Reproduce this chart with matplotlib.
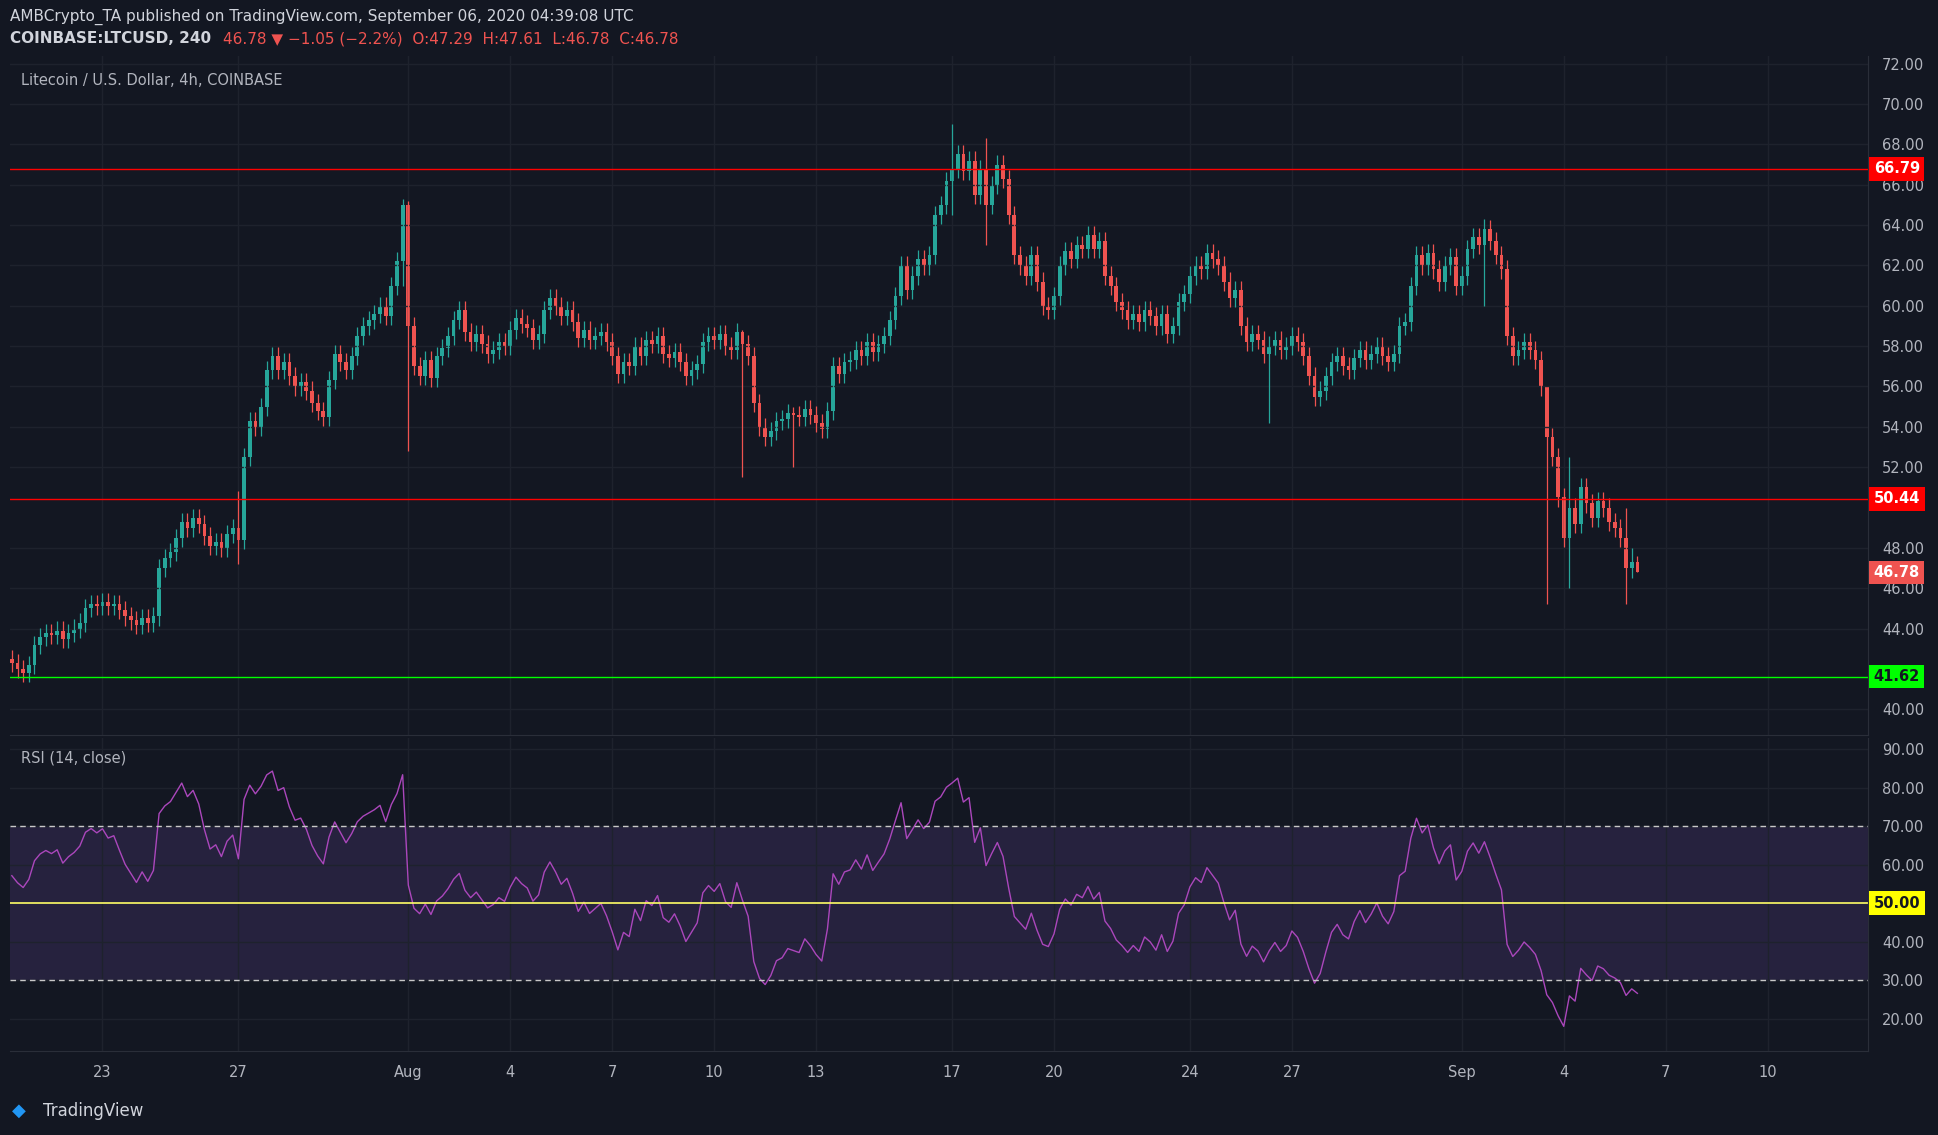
import numpy as np
import matplotlib.pyplot as plt
from matplotlib.patches import Rectangle

# 4h closes, Jul 20 08:00 -> Sep 6 04:00 (UTC)
closes = [
    42.3, 42.0, 41.8, 42.2,
    43.2, 43.6, 43.8, 43.7, 43.9, 43.5,
    43.8, 44.0, 44.3, 45.0, 45.2, 45.1,
    45.3, 45.1, 45.2, 44.9, 44.6, 44.4,
    44.2, 44.5, 44.3, 44.6, 47.0, 47.5,
    47.8, 48.5, 49.3, 49.0, 49.5, 49.2,
    48.6, 48.1, 48.3, 48.0, 48.7, 49.0,
    48.4, 52.5, 54.3, 54.0, 55.0, 56.8,
    57.5, 56.8, 57.2, 56.5, 56.0, 56.2,
    55.8, 55.2, 54.8, 54.5, 56.3, 57.6,
    57.2, 56.8, 57.5, 58.5, 59.0, 59.3,
    59.6, 60.0, 59.5, 61.0, 62.2, 65.0,
    59.0, 57.0, 56.5, 57.3, 56.4, 57.5,
    57.9, 58.5, 59.3, 59.8, 58.7, 58.2,
    58.6, 58.1, 57.6, 57.8, 58.2, 58.0,
    58.8, 59.4, 59.1, 58.9, 58.3, 58.6,
    59.8, 60.4, 60.0, 59.5, 59.8, 59.2,
    58.4, 58.8, 58.3, 58.5, 58.7, 58.2,
    57.5, 56.6, 57.2, 57.0, 58.0, 57.5,
    58.3, 58.1, 58.5, 57.6, 57.4, 57.7,
    57.2, 56.5, 56.8, 57.1, 58.2, 58.5,
    58.3, 58.6, 58.0, 57.8, 58.7, 58.1,
    57.5, 55.2, 54.0, 53.5, 53.8, 54.3,
    54.4, 54.7, 54.6, 54.5, 54.9, 54.6,
    54.2, 53.9, 54.8, 57.0, 56.6, 57.2,
    57.3, 57.8, 57.5, 58.2, 57.7, 58.1,
    58.5, 59.3, 60.5, 62.0, 60.8, 61.5,
    62.3, 62.0, 62.5, 64.5, 65.0, 66.2,
    66.8, 67.5, 66.7, 67.2, 65.5, 66.8,
    65.0, 66.0, 67.0, 66.3, 64.5, 62.5,
    62.0, 61.5, 62.5, 61.2, 60.0, 59.8,
    60.5, 62.0, 62.7, 62.3, 63.0, 62.8,
    63.5, 62.8, 63.2, 61.5, 61.0, 60.2,
    59.8, 59.3, 59.6, 59.2, 59.8, 59.5,
    59.0, 59.6, 58.6, 59.0, 60.2, 60.6,
    61.5, 62.0, 61.8, 62.6, 62.3, 62.0,
    61.2, 60.4, 60.8, 59.0, 58.2, 58.6,
    58.3, 57.6, 58.0, 58.3, 57.8, 58.0,
    58.5, 58.2, 57.5, 56.5, 55.5, 55.8,
    56.5, 57.2, 57.5, 57.0, 56.8, 57.4,
    57.8, 57.3, 57.6, 58.0, 57.5, 57.2,
    57.6, 59.0, 59.2, 61.0, 62.5, 62.0,
    62.6, 61.8, 61.2, 62.0, 62.4, 61.0,
    61.5, 62.8, 63.4, 63.0, 63.8, 63.2,
    62.5, 61.8, 58.5, 57.5, 57.8, 58.2,
    57.8, 57.3, 56.0, 53.5, 52.5, 50.5,
    48.5, 50.0, 49.2, 51.0, 50.2, 49.5,
    50.3, 50.0, 49.3, 49.0, 48.5, 47.0,
    47.29, 46.78,
]
first_open = 42.5
# notable wicks: candle index -> (high, low)
wicks = {40: (50.8, 47.2), 69: (65.3, 61.0), 70: (65.2, 52.8), 129: (58.8, 51.5),
         138: (55.0, 52.0), 166: (69.0, 64.5), 172: (68.3, 63.0), 222: (58.5, 54.2),
         260: (64.3, 60.0), 271: (53.8, 45.2), 275: (52.5, 46.0), 285: (50.0, 45.2),
         286: (48.0, 46.5), 287: (47.61, 46.78)}

levels_red = [66.79, 50.44]
level_green = 41.62
last_price = 46.78

price_ticks = [40, 44, 46, 48, 52, 54, 56, 58, 60, 62, 64, 66, 68, 70, 72]
rsi_ticks = [20, 30, 40, 60, 70, 80, 90]
tick_pos = [0, 4, 9, 12, 15, 18, 21, 25, 28, 32, 35, 40, 43, 46, 49]
tick_lab = ['23', '27', 'Aug', '4', '7', '10', '13', '17', '20', '24', '27', 'Sep', '4', '7', '10']

BG = '#131722'
GRID = '#1e222d'
TXT = '#b2b5be'
UP = '#26a69a'
DN = '#ef5350'

c = np.array(closes)
o = np.concatenate([[first_open], c[:-1]])
x = -2 - 2/3 + np.arange(len(c)) / 6.0
hi = np.maximum(o, c) + 0.45
lo = np.minimum(o, c) - 0.45
for k, (h, l) in wicks.items():
    hi[k], lo[k] = h, l

# RSI 14 (Wilder)
d = np.diff(c, prepend=first_open)
g = np.clip(d, 0, None); ls = np.clip(-d, 0, None)
ag = np.zeros_like(c); al = np.zeros_like(c)
ag[0], al[0] = 0.4, 0.3
for i in range(1, len(c)):
    ag[i] = (ag[i-1]*13 + g[i]) / 14
    al[i] = (al[i-1]*13 + ls[i]) / 14
rsi = 100 - 100 / (1 + ag / al)

fig = plt.figure(figsize=(19.38, 11.35), dpi=100, facecolor=BG)
ax = fig.add_axes([0.005, 0.352, 0.959, 0.599], facecolor=BG)
ax2 = fig.add_axes([0.005, 0.074, 0.959, 0.276], facecolor=BG, sharex=ax)

w = 0.11
for xi, oi, ci, h, l in zip(x, o, c, hi, lo):
    col = UP if ci >= oi else DN
    ax.vlines(xi, l, h, color=col, lw=0.9)
    ax.add_patch(Rectangle((xi - w/2, min(oi, ci)), w, max(abs(ci - oi), 0.05), color=col, lw=0))

for lv in levels_red:
    ax.axhline(lv, color='#ff0000', lw=1)
ax.axhline(level_green, color='#00ff00', lw=1)
ax.set_ylim(38.7, 72.4)
ax.set_xlim(-2.73, 51.96)
ax.set_yticks(price_ticks)
ax.set_yticklabels(['%.2f' % v for v in price_ticks])

ax2.fill_between([-10, 60], 30, 70, color='#7e57c2', alpha=0.18, lw=0)
ax2.plot(x, rsi, color='#ab47bc', lw=1)
ax2.axhline(70, color='#c8c8c8', lw=1, ls=(0, (4, 3)))
ax2.axhline(30, color='#c8c8c8', lw=1, ls=(0, (4, 3)))
ax2.axhline(50, color='#ffff66', lw=1.2)
ax2.set_ylim(11.7, 92.9)
ax2.set_yticks(rsi_ticks)
ax2.set_yticklabels(['%.2f' % v for v in rsi_ticks])

for a in (ax, ax2):
    a.yaxis.tick_right()
    a.tick_params(colors=TXT, labelsize=10.5, length=0, pad=10)
    a.grid(True, color=GRID, lw=1)
    for s in a.spines.values():
        s.set_color('#2a2e39')
    a.spines['top'].set_visible(False)
    a.spines['left'].set_visible(False)
ax.tick_params(labelbottom=False)
ax2.set_xticks(tick_pos)
ax2.set_xticklabels(tick_lab)
ax2.tick_params(axis='x', pad=10)

def tag(a, y, txt, bg, fg='white'):
    a.text(1.003, y, txt, transform=a.get_yaxis_transform(), va='center', ha='left',
           fontsize=10.5, color=fg, fontweight='bold', zorder=10,
           bbox=dict(boxstyle='square,pad=0.3', fc=bg, ec='none'))

tag(ax, 66.79, '66.79', '#ff0000')
tag(ax, 50.44, '50.44', '#ff0000')
tag(ax, 41.62, '41.62', '#00ff00', '#131722')
tag(ax, last_price, '46.78', DN)
tag(ax2, 50, '50.00', '#ffff00', '#131722')

ax.text(0.006, 0.975, 'Litecoin / U.S. Dollar, 4h, COINBASE', transform=ax.transAxes,
        color=TXT, fontsize=10.5, va='top')
ax2.text(0.006, 0.96, 'RSI (14, close)', transform=ax2.transAxes, color=TXT, fontsize=10.5, va='top')

fig.text(0.005, 0.985, 'AMBCrypto_TA published on TradingView.com, September 06, 2020 04:39:08 UTC',
         color='#d1d4dc', fontsize=11, va='center')
fig.text(0.005, 0.966, 'COINBASE:LTCUSD, 240', color='#d1d4dc', fontsize=11, va='center', fontweight='bold')
fig.text(0.115, 0.966, '46.78 \u25bc \u22121.05 (\u22122.2%)  O:47.29  H:47.61  L:46.78  C:46.78',
         color=DN, fontsize=11, va='center')
fig.text(0.022, 0.021, 'TradingView', color='#d1d4dc', fontsize=12, va='center')
fig.text(0.006, 0.021, '\u25c6', color='#2196f3', fontsize=13, va='center')

fig.savefig('out.png', dpi=100, facecolor=BG)
